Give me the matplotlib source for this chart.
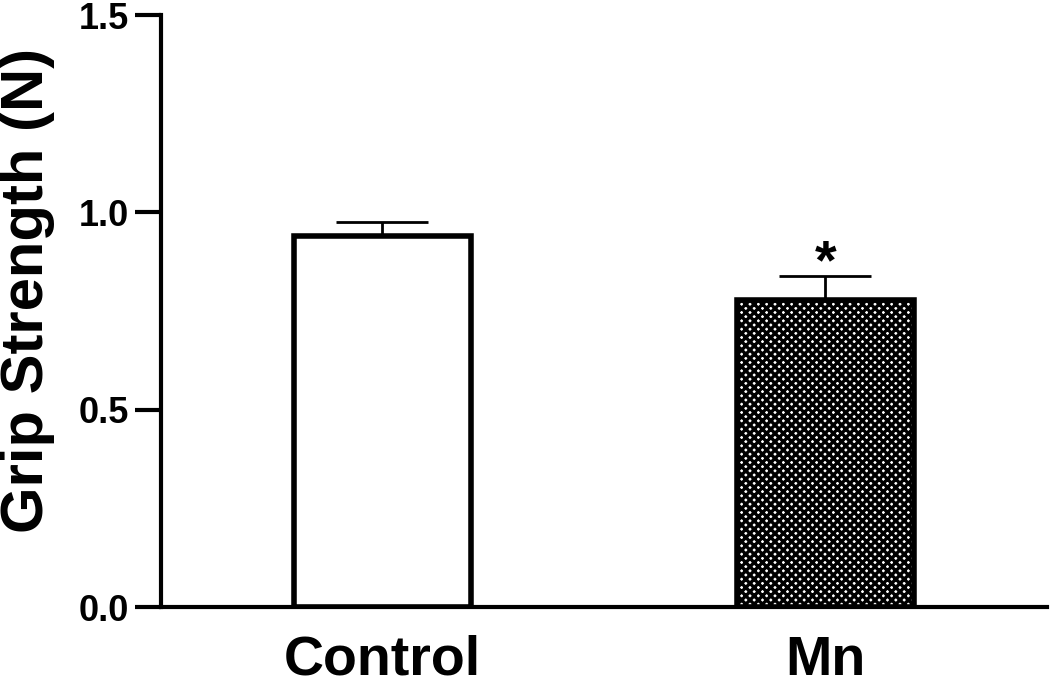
import matplotlib
matplotlib.use("Agg")
import matplotlib.pyplot as plt

categories = ["Control", "Mn"]
means = [0.94, 0.777]
errors = [0.035, 0.062]
yticks = [0.0, 0.5, 1.0, 1.5]
ylabel = "Grip Strength (N)"

plt.rcParams['font.family'] = ['Liberation Sans', 'DejaVu Sans']
plt.rcParams['hatch.linewidth'] = 2.4

fig = plt.figure(figsize=(10.5, 6.89), dpi=100)
ax = fig.add_axes([0.1533, 0.119, 0.8437, 0.859])

x = list(range(len(categories)))
bars = ax.bar(x, means, width=0.4, color="white", edgecolor="black", linewidth=4, zorder=2)
bars[1].set_hatch("xxxx")
ax.errorbar(x, means, yerr=[[0, 0], errors], fmt="none", ecolor="black",
            elinewidth=2, capsize=33, capthick=2, zorder=1)
ax.text(x[1], means[1] + errors[1] - 0.035, "*", ha="center", va="bottom",
        fontsize=40, fontweight="bold")

ax.set_xlim(-0.5, 1.5)
ax.set_ylim(0, 1.5)
ax.set_yticks(yticks)
ax.set_yticklabels([f"{t:.1f}" for t in yticks], fontsize=26, fontweight="bold")
ax.set_xticks(x)
ax.set_xticklabels(categories, fontsize=40, fontweight="bold")
ax.tick_params(axis="x", length=0, pad=20)
ax.tick_params(axis="y", length=19, width=3, pad=4)
ax.set_ylabel(ylabel, fontsize=43, fontweight="bold")
ax.yaxis.set_label_coords(-0.120, 0.535)
for s in ["top", "right"]:
    ax.spines[s].set_visible(False)
for s in ["left", "bottom"]:
    ax.spines[s].set_linewidth(3)

fig.savefig("out.png", dpi=100)
